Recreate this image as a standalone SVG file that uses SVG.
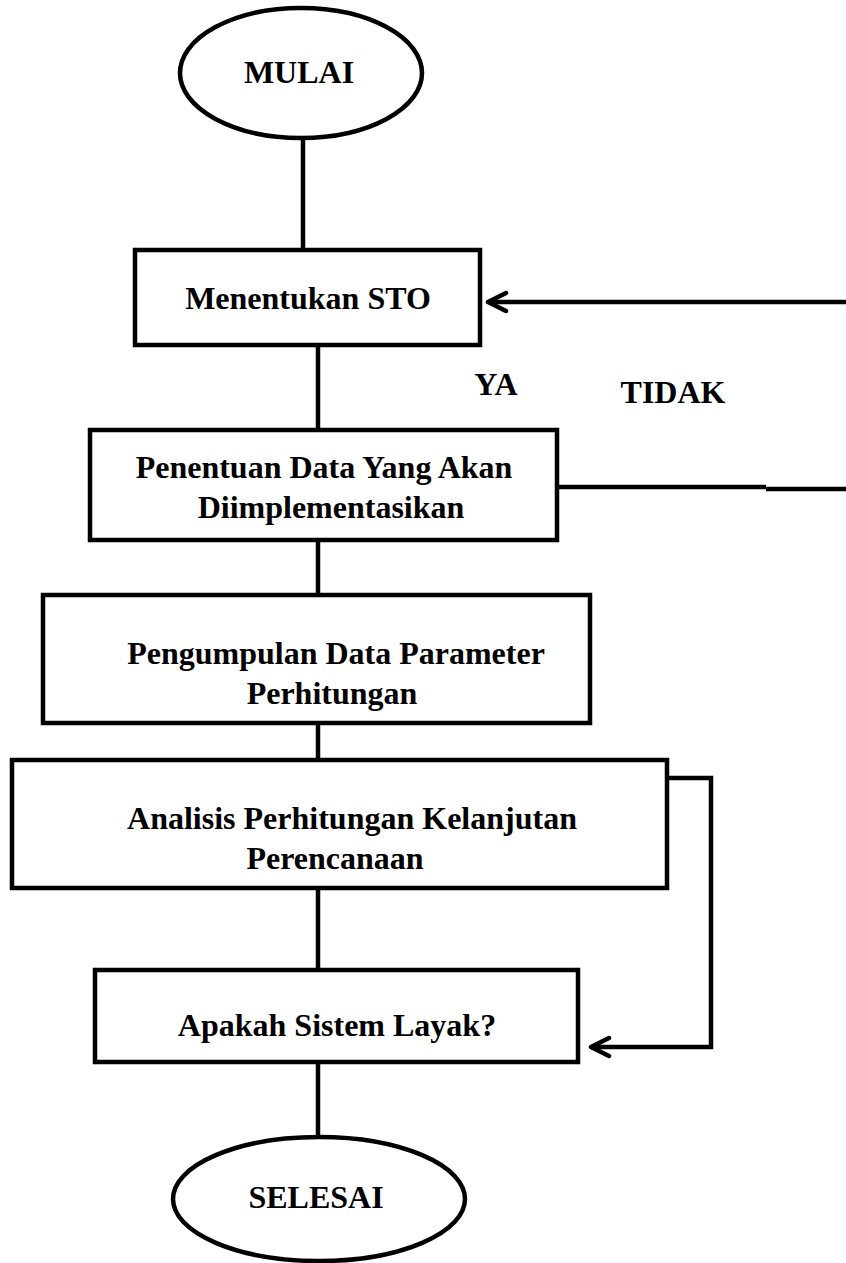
<svg xmlns="http://www.w3.org/2000/svg" width="846" height="1263" viewBox="0 0 846 1263">
<style>
.n{fill:#fff;stroke:#000;stroke-width:4.5}
.c{fill:none;stroke:#000;stroke-width:4.5}
text{font-family:"Liberation Serif","Times New Roman",serif;font-weight:bold;font-size:32px;fill:#000;text-anchor:middle}
</style>
<defs>
<marker id="ah" markerWidth="26" markerHeight="26" refX="21" refY="13" orient="auto" markerUnits="userSpaceOnUse" viewBox="0 0 26 26">
<path d="M3,4 L21,13 L3,22" fill="none" stroke="#000" stroke-width="4.5" stroke-linecap="round" stroke-linejoin="round"/>
</marker>
</defs>
<g id="connectors">
<line class="c" x1="303" y1="139" x2="303" y2="250"/>
<line class="c" x1="318" y1="345" x2="318" y2="430"/>
<line class="c" x1="318" y1="540" x2="318" y2="595"/>
<line class="c" x1="318" y1="723" x2="318" y2="760"/>
<line class="c" x1="318" y1="888" x2="318" y2="970"/>
<line class="c" x1="318" y1="1062" x2="318" y2="1137"/>
<line class="c" x1="846" y1="302" x2="488" y2="302" marker-end="url(#ah)"/>
<line class="c" x1="557" y1="487" x2="766" y2="487"/>
<line class="c" x1="766" y1="489" x2="846" y2="489"/>
<polyline class="c" points="667,778 711,778 711,1047 591,1047" marker-end="url(#ah)"/>
</g>
<g id="mulai"><ellipse class="n" cx="301" cy="73" rx="121" ry="65"/><text x="299" y="83">MULAI</text></g>
<g id="sto"><rect class="n" x="135" y="250" width="345" height="95"/><text x="308" y="309">Menentukan STO</text></g>
<g id="label-ya"><text x="496" y="395">YA</text></g>
<g id="label-tidak"><text x="673" y="403">TIDAK</text></g>
<g id="penentuan"><rect class="n" x="90" y="430" width="467" height="110"/><text x="324" y="478">Penentuan Data Yang Akan</text><text x="331" y="518">Diimplementasikan</text></g>
<g id="pengumpulan"><rect class="n" x="43" y="595" width="547" height="128"/><text x="336" y="664">Pengumpulan Data Parameter</text><text x="332" y="704">Perhitungan</text></g>
<g id="analisis"><rect class="n" x="12" y="760" width="655" height="128"/><text x="352" y="829">Analisis Perhitungan Kelanjutan</text><text x="335" y="869">Perencanaan</text></g>
<g id="apakah"><rect class="n" x="95" y="970" width="483" height="92"/><text x="337" y="1036">Apakah Sistem Layak?</text></g>
<g id="selesai"><ellipse class="n" cx="319" cy="1199" rx="146" ry="62"/><text x="316" y="1208">SELESAI</text></g>
</svg>
